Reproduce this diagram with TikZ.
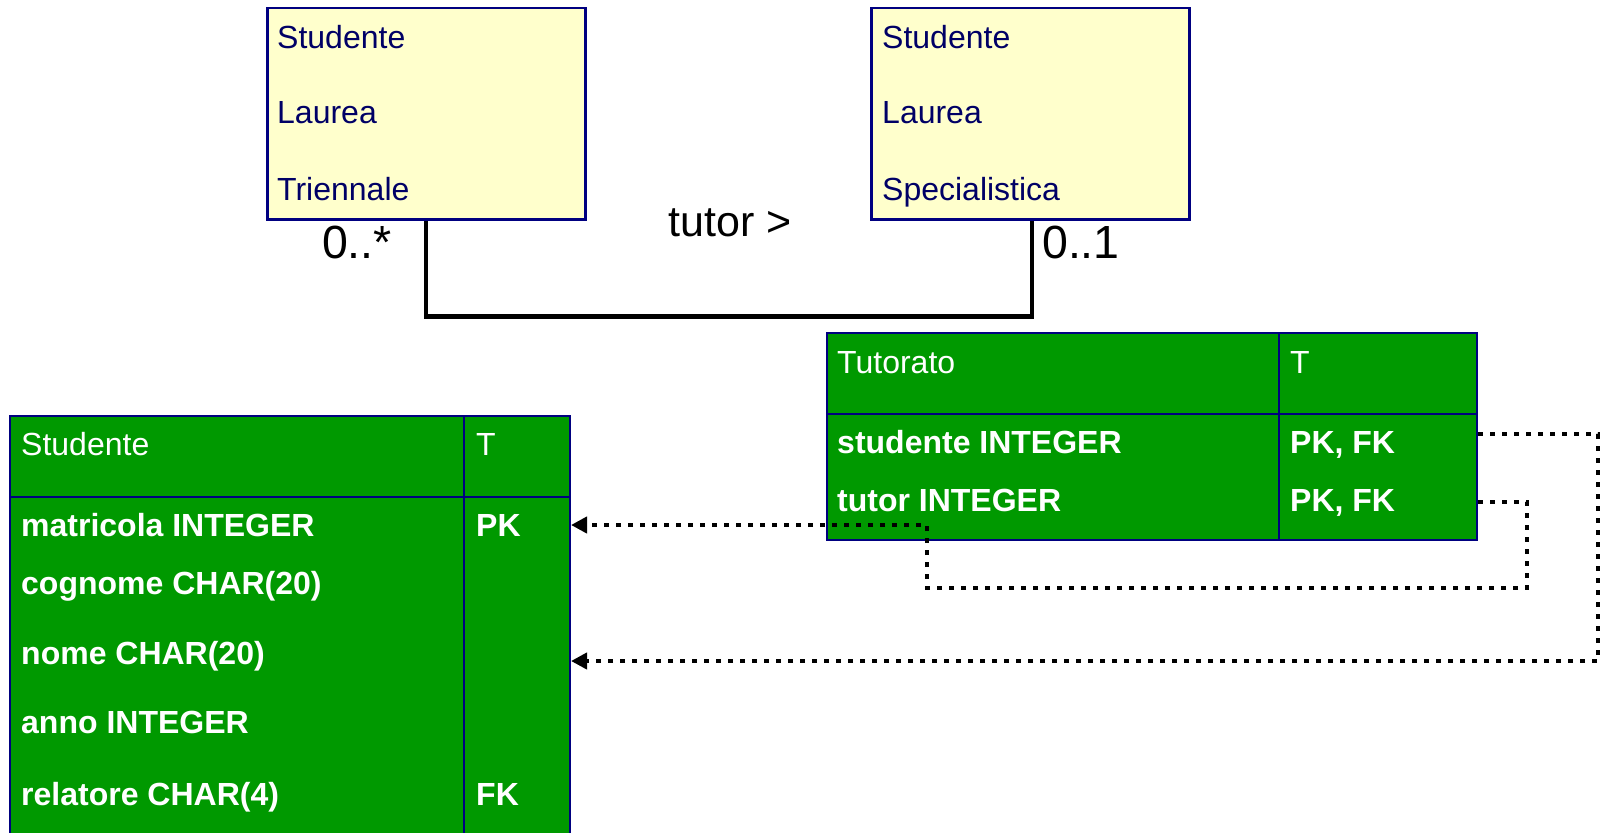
\documentclass[tikz,border=0pt]{standalone}
\usepackage{fontspec}
\setmainfont{Liberation Sans}
\usetikzlibrary{arrows.meta}
\definecolor{uyellow}{RGB}{255,255,204}
\definecolor{unavy}{RGB}{0,0,128}
\definecolor{utext}{RGB}{0,0,102}
\definecolor{tgreen}{RGB}{0,153,0}
\tikzset{
  classbox/.style={draw=unavy, line width=2.5pt, fill=uyellow, inner sep=0pt, minimum width=318pt, minimum height=211pt, anchor=north west},
  classtxt/.style={text=utext, font=\fontsize{32}{38}\selectfont, inner sep=0pt, anchor=base west},
  mult/.style={text=black, font=\fontsize{46.5}{54}\selectfont, inner sep=0pt},
  assoc/.style={draw=black, line width=4.5pt, line join=miter},
  tbl/.style={draw=unavy, line width=2pt, fill=tgreen, inner sep=0pt, anchor=north west},
  tblline/.style={draw=unavy, line width=2pt},
  hdrtxt/.style={text=white, font=\fontsize{32}{38}\selectfont, inner sep=0pt, anchor=base west},
  rowtxt/.style={text=white, font=\bfseries\fontsize{32}{38}\selectfont, inner sep=0pt, anchor=base west},
  fk/.style={draw=black, line width=4.7pt, dash pattern=on 5pt off 7pt, -{Triangle[length=16pt,width=16pt]}}
}
\begin{document}
\begin{tikzpicture}[x=1pt,y=-1pt]
\useasboundingbox (0,0) rectangle (1602,832);
\clip (0,0) rectangle (1602,832);

% UML classes
\node[classbox] (y1) at (266,7) {};
\node[classtxt] (y1a) at (277,49) {Studente};
\node[classtxt] (y1b) at (277,124) {Laurea};
\node[classtxt] (y1c) at (277,200) {Triennale};

\node[classbox] (y2) at (870,7) {};
\node[classtxt] (y2a) at (882,49) {Studente};
\node[classtxt] (y2b) at (882,124) {Laurea};
\node[classtxt] (y2c) at (882,200) {Specialistica};

\draw[assoc] ([xshift=160pt]y1.south west) -- ++(0,96) -| ([xshift=162pt]y2.south west);
\node[mult, anchor=base east] (m1) at (392,258) {0..*};
\node[mult, anchor=base west] (m2) at (1042,258) {0..1};
\node[mult, anchor=base, font=\fontsize{43}{50}\selectfont] (lbl) at (730,236) {tutor >};

% Tutorato table
\node[tbl, minimum width=650pt, minimum height=207pt] (tut) at (826,332) {};
\draw[tblline] ([yshift=-82pt]tut.north west) -- ([yshift=-82pt]tut.north east);
\draw[tblline] ([xshift=453pt]tut.north west) -- ([xshift=453pt]tut.south west);
\node[hdrtxt] (tut-h) at (837,373) {Tutorato};
\node[hdrtxt] (tut-t) at (1290,373) {T};
\node[rowtxt] (tut-r1) at (837,453) {studente INTEGER};
\node[rowtxt] (tut-k1) at (1290,453) {PK, FK};
\node[rowtxt] (tut-r2) at (837,511) {tutor INTEGER};
\node[rowtxt] (tut-k2) at (1290,511) {PK, FK};

% Studente table
\node[tbl, minimum width=560pt, minimum height=440pt] (stu) at (9,415) {};
\draw[tblline] ([yshift=-82pt]stu.north west) -- ([yshift=-82pt]stu.north east);
\draw[tblline] ([xshift=455pt]stu.north west) -- ([xshift=455pt]stu.south west);
\node[hdrtxt] (stu-h) at (21,455) {Studente};
\node[hdrtxt] (stu-t) at (476,455) {T};
\node[rowtxt] (stu-r1) at (21,536) {matricola INTEGER};
\node[rowtxt] (stu-k1) at (476,536) {PK};
\node[rowtxt] (stu-r2) at (21,594) {cognome CHAR(20)};
\node[rowtxt] (stu-r3) at (21,664) {nome CHAR(20)};
\node[rowtxt] (stu-r4) at (21,733) {anno INTEGER};
\node[rowtxt] (stu-r5) at (21,805) {relatore CHAR(4)};
\node[rowtxt] (stu-k5) at (476,805) {FK};

% foreign keys
\draw[fk] ([yshift=-170pt]tut.north east) -- ++(49,0) -- ++(0,86) -- ++(-600,0) -- ++(0,-63) -- ([yshift=-110pt]stu.north east);
\draw[fk] ([yshift=-102pt]tut.north east) -- ++(120,0) |- ([yshift=-246pt]stu.north east);
\end{tikzpicture}
\end{document}
